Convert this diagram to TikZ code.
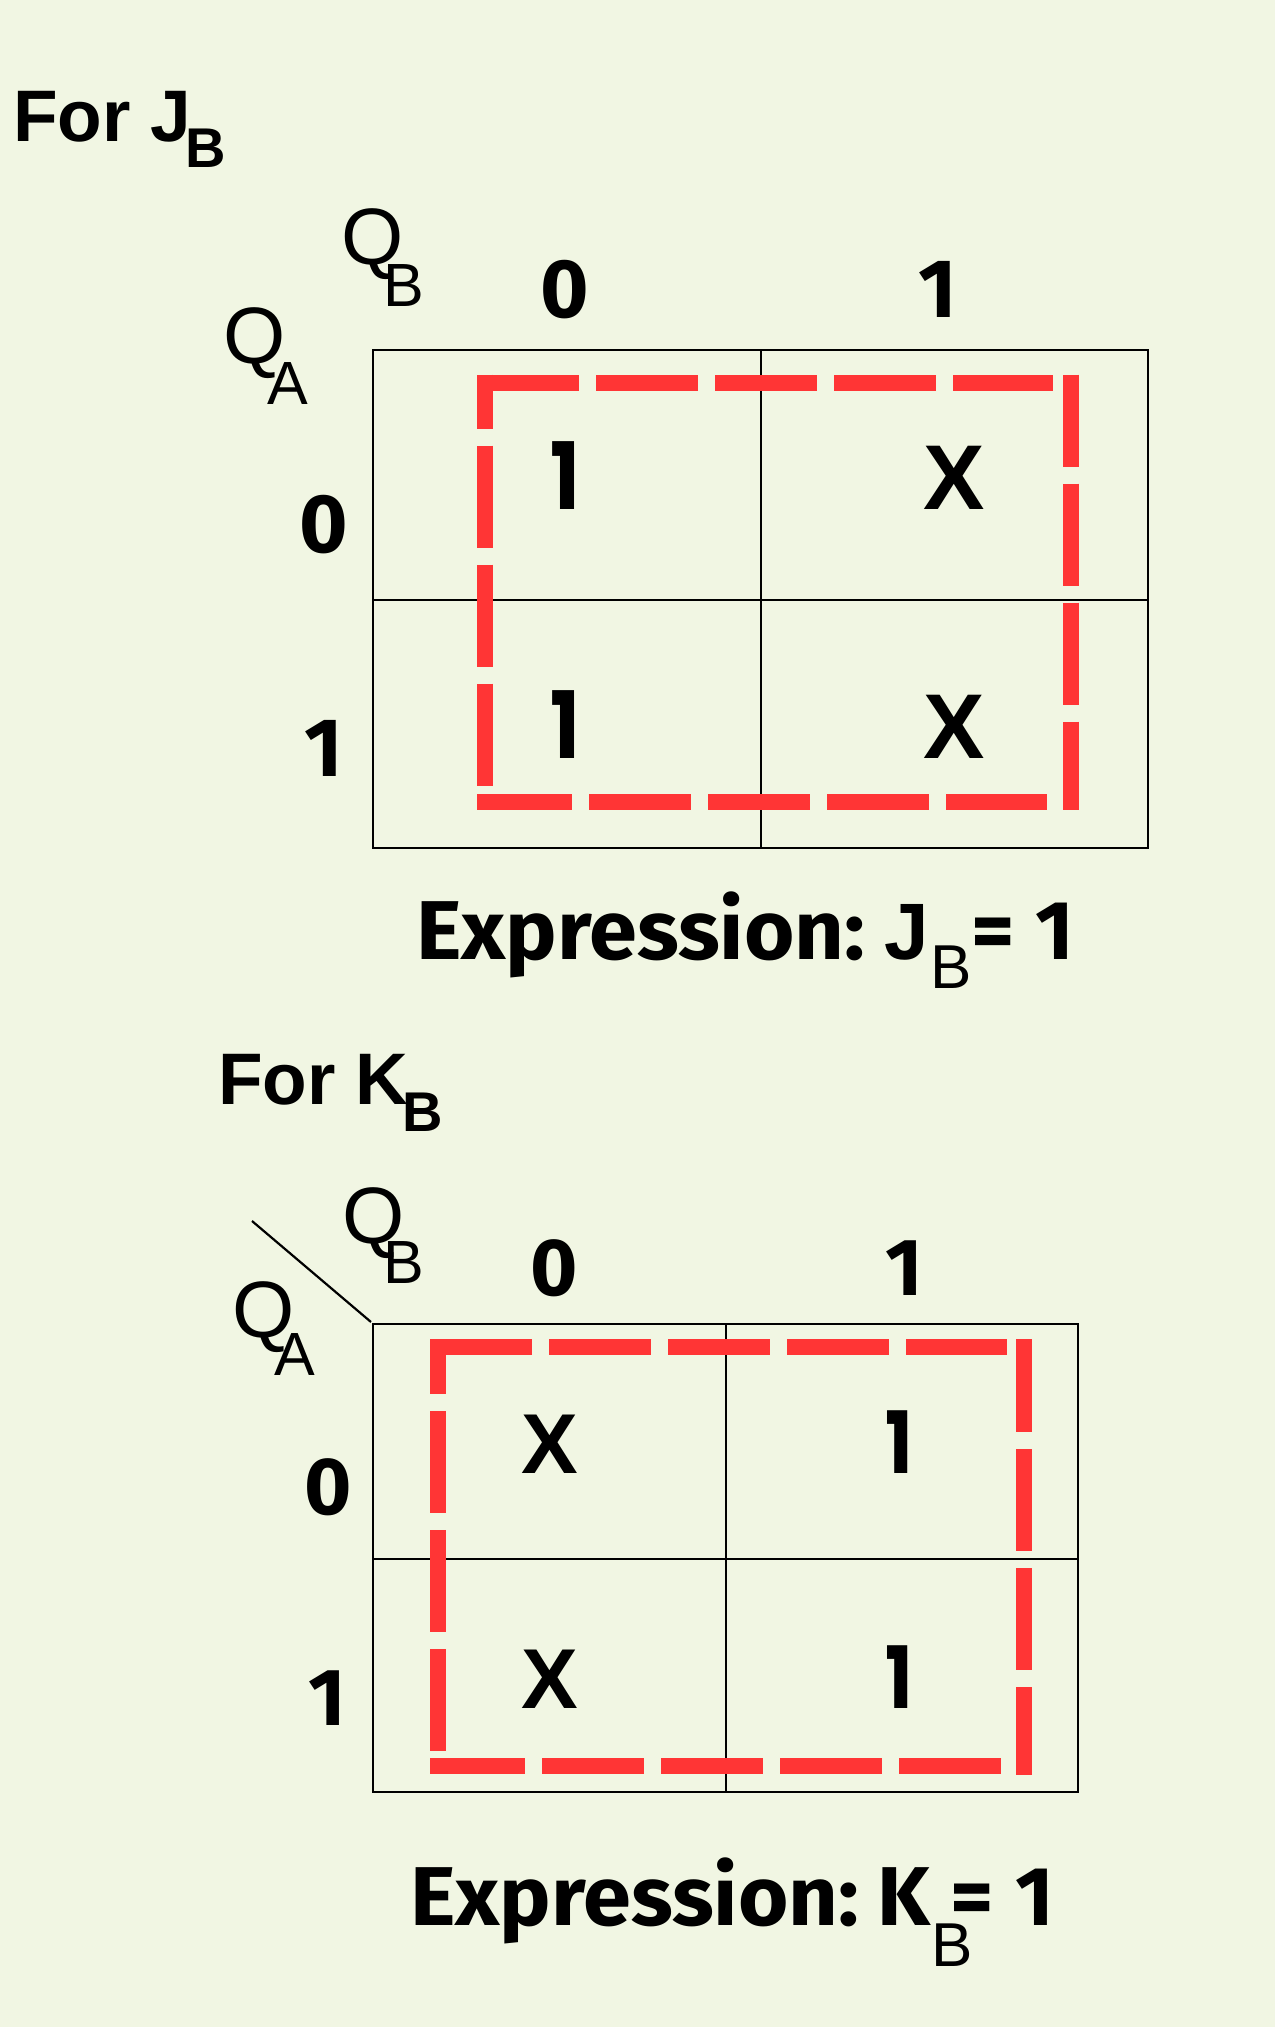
\documentclass[tikz,border=0pt]{standalone}
\usepackage{fontspec}
\setmainfont{Liberation Sans}
\newfontfamily\lsans{Liberation Sans}
\newfontfamily\popn{Poppins}[FakeStretch=0.85]
\newfontfamily\fira{Fira Sans}
\newfontfamily\firaw{Fira Sans}[FakeStretch=1.035]
\definecolor{bgc}{RGB}{241,246,227}
\definecolor{redc}{RGB}{255,53,53}
\newcommand\fsz[1]{\fontsize{#1}{#1}\selectfont}
\begin{document}
\begin{tikzpicture}[x=1pt,y=-1pt,
  every node/.style={inner sep=0pt,outer sep=0pt,text=black},
  titletxt/.style={font=\lsans\bfseries\fsz{73}, anchor=base west},
  titlesub/.style={font=\lsans\bfseries\fsz{56}, anchor=base west},
  qmain/.style={font=\lsans\fsz{80}, anchor=base west},
  qsub/.style={font=\lsans\fsz{61}, anchor=base west},
  hdr/.style={font=\fira\bfseries\fsz{83}, anchor=base},
  hdrb/.style={font=\fira\bfseries\fsz{81}, anchor=base},
  cellX/.style={font=\lsans\bfseries\fsz{#1}, anchor=base},
  cellOne/.style={font=\popn\bfseries\fsz{#1}, anchor=base},
  expr/.style={font=\firaw\bfseries\fsz{83.5}, anchor=base west},
  exprJ/.style={font=\lsans\bfseries\fsz{80}, anchor=base west},
  exprc/.style={font=\fira\bfseries\fsz{83.5}, anchor=base},
  exprsub/.style={font=\lsans\fsz{62}, anchor=base west},
  gridline/.style={draw=black, line width=2.5pt},
  reddash/.style={draw=redc, line width=16pt, dash pattern=on 102pt off 17pt}
]
\fill[bgc] (0,0) rectangle (1275,2027);
\useasboundingbox (0,0) rectangle (1275,2027);

% ---------- Map for J_B ----------
\node[titletxt] (t1) at (13,141) {For J};
\node[titlesub] (t1s) at (185,167) {B};

\draw[gridline] (373,350) rectangle (1148,848);
\draw[gridline] (761,350) -- (761,848);
\draw[gridline] (373,600) -- (1148,600);

\draw[reddash] (477,383) -- (1053,383);
\draw[reddash, dash phase=10pt] (1071,374.6) -- (1071,809.5);
\draw[reddash, dash phase=7pt] (477,802) -- (1047,802);
\draw[reddash, dash phase=48pt] (485,374.6) -- (485,787);

\node[qmain] (q1b) at (341,264) {Q};
\node[qsub] (q1bs) at (383,306) {B};
\node[qmain] (q1a) at (223,363) {Q};
\node[qsub] (q1as) at (267,404.5) {A};

\node[hdr] (c10) at (565,317) {0};
\node[hdr] (c11) at (938,317) {1};
\node[hdr] (r10) at (324,552) {0};
\node[hdr] (r11) at (324,776) {1};

\node[cellOne=93] (m100) at (565,509) {1};
\node[cellX=92] (m101) at (954,509) {X};
\node[cellOne=93] (m110) at (565,758) {1};
\node[cellX=92] (m111) at (954,758) {X};

\node[expr] (e1) at (416,959) {Expression:};
\node[exprJ] (e1j) at (884.5,959) {J};
\node[exprsub] (e1s) at (930,988) {B};
\node[exprc] (e1eq) at (993,959) {=};
\node[exprc] (e1one) at (1055,959) {1};

% ---------- Map for K_B ----------
\node[titletxt] (t2) at (218,1104) {For K};
\node[titlesub] (t2s) at (402,1131.7) {B};

\draw[gridline] (373,1324) rectangle (1078,1792);
\draw[gridline] (726,1324) -- (726,1792);
\draw[gridline] (373,1559) -- (1078,1559);

\coordinate (d1) at (252,1221);
\coordinate (d2) at (371,1322);
\draw[line width=2.2pt] (d1) -- (d2);

\draw[reddash] (430,1347) -- (1007,1347);
\draw[reddash, dash phase=9pt] (1024,1339) -- (1024,1774.5);
\draw[reddash, dash phase=7pt] (430,1766) -- (1001,1766);
\draw[reddash, dash phase=47pt] (438,1339) -- (438,1751.4);

\node[qmain] (q2b) at (342,1243) {Q};
\node[qsub] (q2bs) at (383,1283.3) {B};
\node[qmain] (q2a) at (232,1337) {Q};
\node[qsub] (q2as) at (274,1375) {A};

\node[hdrb] (c20) at (554,1295) {0};
\node[hdrb] (c21) at (904,1295) {1};
\node[hdrb] (r20) at (328,1514) {0};
\node[hdrb] (r21) at (327,1725) {1};

\node[cellX=85] (m200) at (549.5,1473) {X};
\node[cellOne=86] (m201) at (899,1473) {1};
\node[cellX=85] (m210) at (549.5,1708) {X};
\node[cellOne=86] (m211) at (899,1708) {1};

\node[expr] (e2) at (410,1925) {Expression:};
\node[exprc, anchor=base west] (e2k) at (877,1925) {K};
\node[exprsub] (e2s) at (931,1966) {B};
\node[exprc] (e2eq) at (972.5,1925) {=};
\node[exprc] (e2one) at (1035,1925) {1};
\end{tikzpicture}
\end{document}
